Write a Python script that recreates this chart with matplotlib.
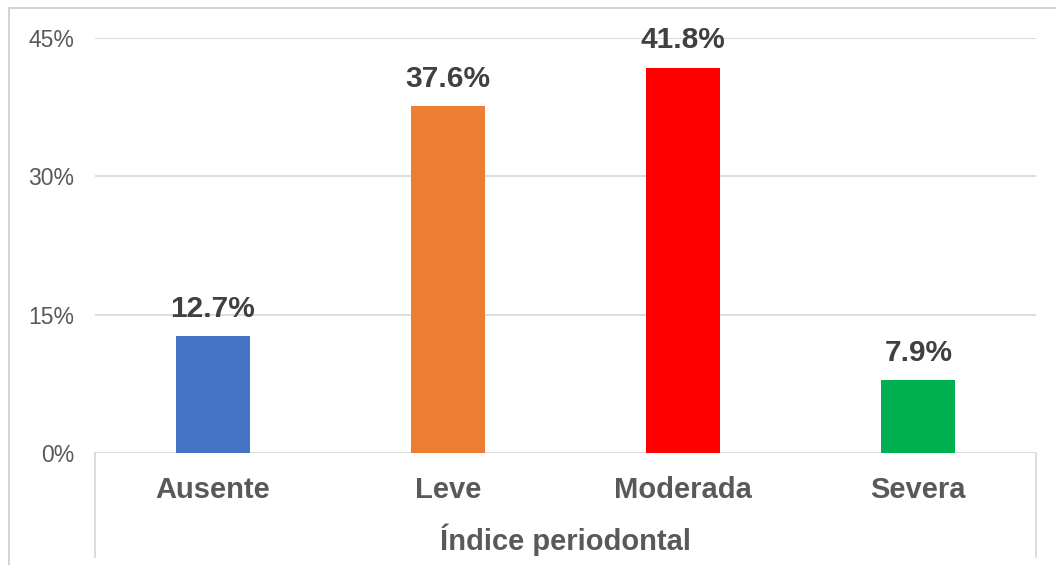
import numpy as np
import matplotlib.pyplot as plt
import matplotlib.patches as patches
from matplotlib.lines import Line2D

plt.rcParams['font.family'] = ['Liberation Sans', 'DejaVu Sans']

# data
categories = ['Ausente', 'Leve', 'Moderada', 'Severa']
values = [12.7, 37.6, 41.8, 7.9]
bar_colors = ['#4472c4', '#ed7d31', '#ff0000', '#00b050']
yticks = [0, 15, 30, 45]
xlabel = 'Índice periodontal'

W, H = 1056, 565
fig = plt.figure(figsize=(W / 100, H / 100), dpi=100)
ax = fig.add_axes([95 / W, (H - 453) / H, (1036 - 95) / W, (453 - 38) / H])

x = np.arange(len(categories))
ax.bar(x, values, width=0.315, color=bar_colors, zorder=3)
ax.set_xlim(-0.5, len(categories) - 0.5)
ax.set_ylim(0, 45)

ax.set_yticks(yticks)
ax.set_yticklabels(['{}%'.format(t) for t in yticks], fontsize=16.5, color='#595959')
ax.tick_params(axis='y', length=0, pad=15)
ax.set_xticks([])
ax.yaxis.grid(True, color='#d9d9d9', linewidth=1.3, zorder=0)
for s in ax.spines.values():
    s.set_visible(False)

# value labels above bars
for xi, v in zip(x, values):
    ax.annotate('{:.1f}%'.format(v), (xi, v), xytext=(0, 13.7), textcoords='offset points',
                ha='center', va='baseline', fontsize=21.5, fontweight='bold', color='#404040')

# category labels and axis title below the axis
trans = ax.get_xaxis_transform()
for xi, c in zip(x, categories):
    ax.text(xi, -45 / 415, c, transform=trans, ha='center', va='baseline',
            fontsize=21, fontweight='bold', color='#595959')
ax.text((len(categories) - 1) / 2, -97 / 415, xlabel, transform=trans, ha='center',
        va='baseline', fontsize=21, fontweight='bold', color='#595959')

# excel style separators on the category axis
for px in [95, 1036]:
    fig.add_artist(Line2D([px / W, px / W], [(H - 557) / H, (H - 453) / H],
                          color='#d9d9d9', linewidth=1.3))

# outer chart border (cropped on right and bottom)
fig.add_artist(patches.Rectangle((9 / W, -0.1), 1.2, (H - 8) / H + 0.1, fill=False,
                                 edgecolor='#d0d0d0', linewidth=1.3))

fig.savefig('out.png', dpi=100)
